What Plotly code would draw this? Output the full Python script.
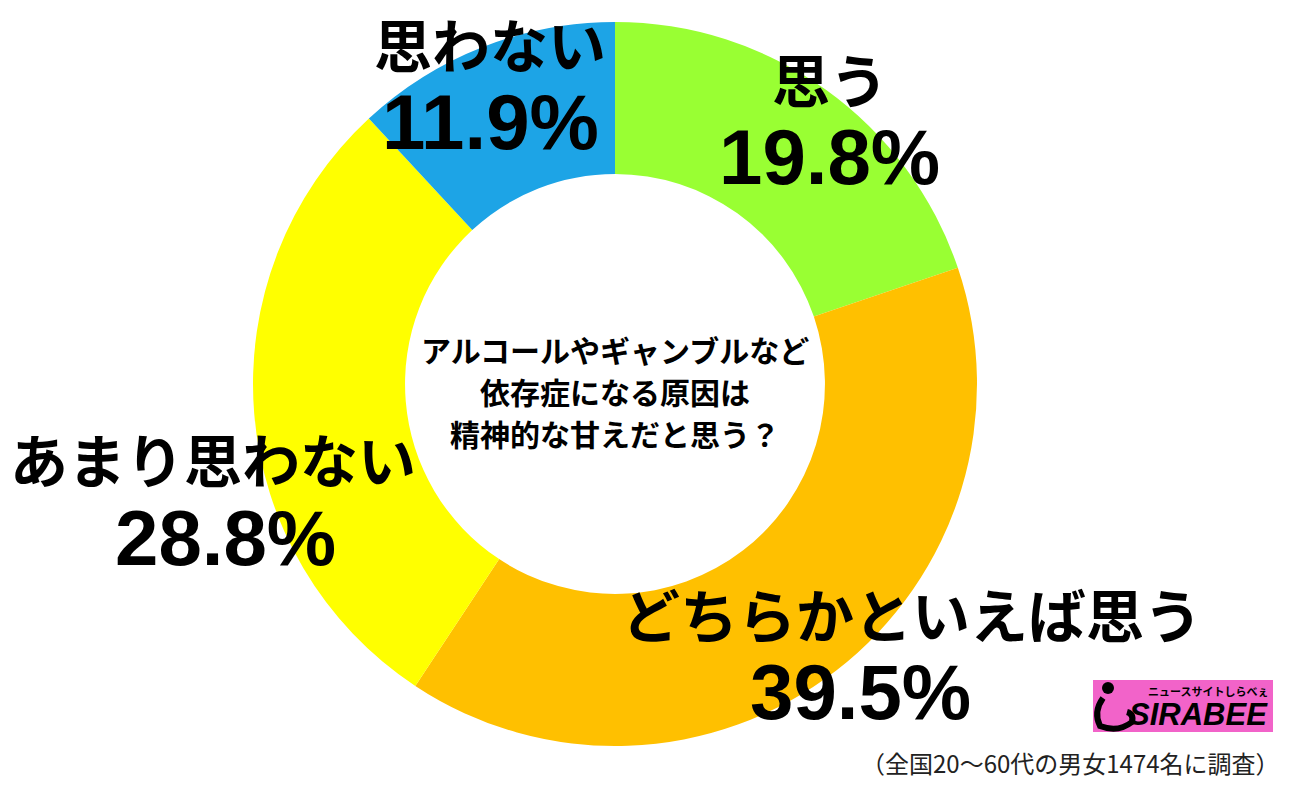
import plotly.graph_objects as go

labels = ["思う", "どちらかといえば思う", "あまり思わない", "思わない"]
values = [19.8, 39.5, 28.8, 11.9]
colors = ["#99FF33", "#FFC000", "#FFFF00", "#1DA4E6"]
question_lines = ["アルコールやギャンブルなど", "依存症になる原因は", "精神的な甘えだと思う？"]
footnote = "（全国20～60代の男女1474名に調査）"

W, H = 1300, 791


def px(x):
    return x / W


def py(y):
    return 1 - y / H


cx, cy, R = 615, 384, 362

fig = go.Figure(go.Pie(
    labels=labels, values=values, sort=False, direction="clockwise", rotation=0,
    hole=0.58, marker=dict(colors=colors, line=dict(width=0)),
    textinfo="none", hoverinfo="none", showlegend=False,
    domain=dict(x=[px(cx - R), px(cx + R)], y=[py(cy + R), py(cy - R)]),
))

cjk = "Noto Sans CJK JP"
num = "Liberation Sans"
label_pos = {
    "思う": ((830, 78), (830, 157)),
    "どちらかといえば思う": ((912, 613), (860, 692)),
    "あまり思わない": ((213, 458), (225, 538)),
    "思わない": ((490, 43), (490, 122)),
}
ann = []
for lab, val in zip(labels, values):
    (lx, ly), (vx, vy) = label_pos[lab]
    ann.append(dict(x=px(lx), y=py(ly), xref="paper", yref="paper", text="<b>%s</b>" % lab,
                    showarrow=False, font=dict(family=cjk, size=58, color="black"),
                    xanchor="center", yanchor="middle"))
    ann.append(dict(x=px(vx), y=py(vy), xref="paper", yref="paper", text="<b>%.1f%%</b>" % val,
                    showarrow=False, font=dict(family=num, size=78, color="black"),
                    xanchor="center", yanchor="middle"))

for i, line in enumerate(question_lines):
    ann.append(dict(x=px(615), y=py(349 + 42 * i), xref="paper", yref="paper",
                    text="<b>%s</b>" % line, showarrow=False, borderpad=0,
                    font=dict(family=cjk, size=30, color="black"),
                    xanchor="center", yanchor="middle"))

ann.append(dict(x=px(1282), y=py(762), xref="paper", yref="paper", text=footnote,
                showarrow=False, font=dict(family=cjk, size=24, color="#222222"),
                xanchor="right", yanchor="middle"))

# logo
ann.append(dict(x=px(1270), y=py(714), xref="paper", yref="paper", text="<b><i>SIRABEE</i></b>",
                showarrow=False, font=dict(family=num, size=31, color="black"),
                xanchor="right", yanchor="middle"))
ann.append(dict(x=px(1270), y=py(691), xref="paper", yref="paper", text="<b>ニュースサイトしらべぇ</b>",
                showarrow=False, font=dict(family=cjk, size=11, color="black"),
                xanchor="right", yanchor="middle"))

shapes = [
    dict(type="rect", xref="paper", yref="paper", x0=px(1093), x1=px(1273), y0=py(732), y1=py(680),
         fillcolor="#F263C9", line=dict(width=0), layer="below"),
    dict(type="circle", xref="paper", yref="paper", x0=px(1102), x1=px(1114), y0=py(694), y1=py(682),
         fillcolor="black", line=dict(width=0)),
    dict(type="path", xref="paper", yref="paper",
         path="M %f,%f Q %f,%f %f,%f Q %f,%f %f,%f Q %f,%f %f,%f" % (
             px(1103), py(698), px(1093), py(712), px(1100), py(726),
             px(1118), py(733), px(1132), py(722),
             px(1134), py(714), px(1127), py(712)),
         line=dict(color="black", width=6)),
]

fig.update_layout(
    width=W, height=H, margin=dict(l=0, r=0, t=0, b=0),
    paper_bgcolor="white", plot_bgcolor="white",
    annotations=ann, shapes=shapes,
)
fig.write_html("out.html")
